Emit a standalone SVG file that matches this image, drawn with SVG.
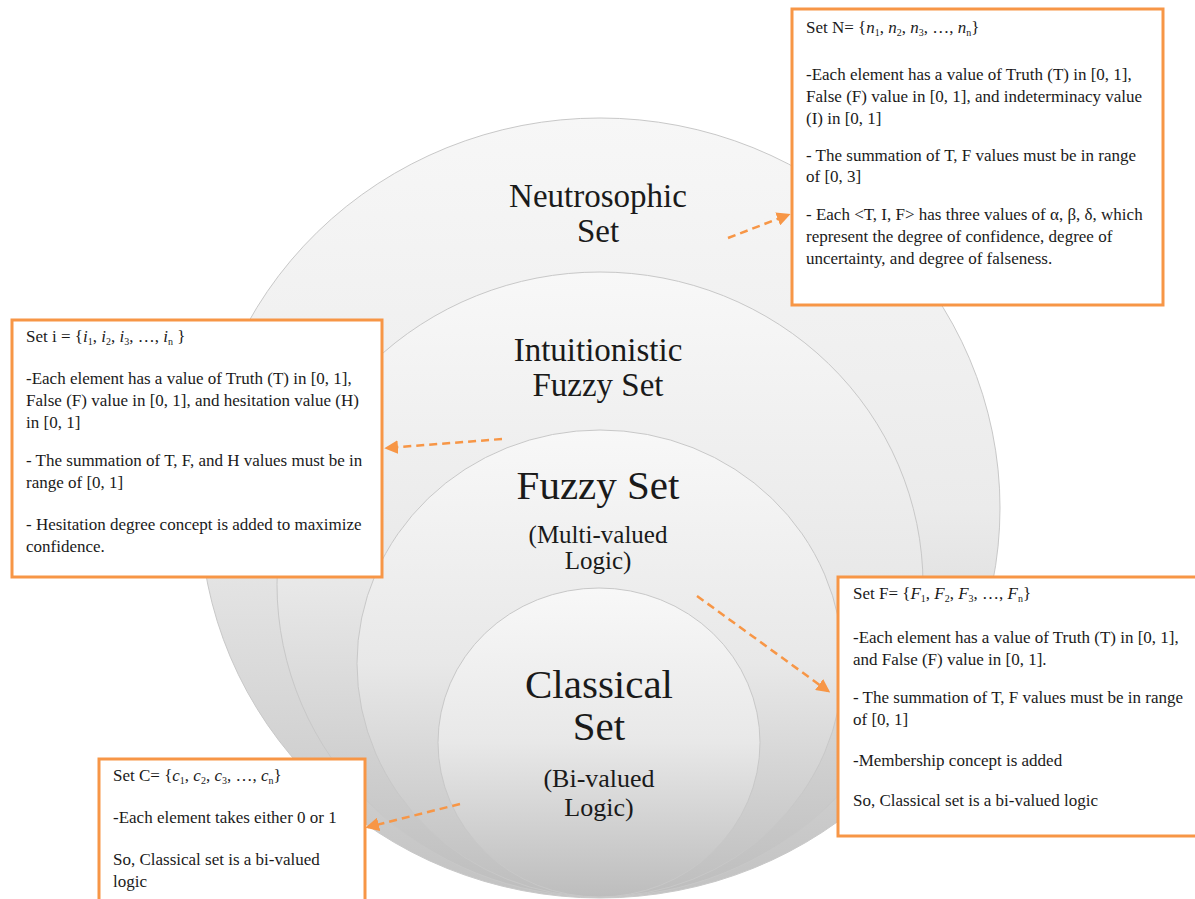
<svg xmlns="http://www.w3.org/2000/svg" width="1195" height="899" viewBox="0 0 1195 899">
<style>
.big{font-family:"Liberation Serif","Times New Roman",serif;fill:#1a1a1a;text-anchor:middle}
.bt{font-family:"Liberation Serif","Times New Roman",serif;font-size:17px;fill:#1a1a1a}
.m{font-style:italic}
.s{font-size:10px}
.box{fill:#ffffff;stroke:#f79646;stroke-width:3}
.ell{stroke:#c8c8c8;stroke-width:1}
.con{fill:none;stroke:#f79646;stroke-width:2.5;stroke-dasharray:8 5;marker-end:url(#ah)}
</style>
<defs>
<linearGradient id="g1" x1="0" y1="0" x2="0" y2="1">
<stop offset="0" stop-color="#f7f7f7"/>
<stop offset="0.5" stop-color="#ebebeb"/>
<stop offset="1" stop-color="#c2c2c2"/>
</linearGradient>
<linearGradient id="g2" x1="0" y1="0" x2="0" y2="1">
<stop offset="0" stop-color="#f8f8f8"/>
<stop offset="0.5" stop-color="#e8e8e8"/>
<stop offset="1" stop-color="#bdbdbd"/>
</linearGradient>
<marker id="ah" viewBox="0 0 10 10" refX="8" refY="5" markerWidth="5.5" markerHeight="5.5" orient="auto" markerUnits="strokeWidth">
<path d="M0,0 L10,5 L0,10 z" fill="#f79646"/>
</marker>
</defs>
<rect width="1195" height="899" fill="#ffffff"/>

<g id="neutrosophic">
<ellipse class="ell" cx="600" cy="508" rx="400" ry="390" fill="url(#g1)" stroke="#dcdcdc"/>
<text class="big" font-size="33" x="598" y="207">Neutrosophic</text>
<text class="big" font-size="33" x="598" y="242">Set</text>
</g>
<g id="intuitionistic">
<ellipse class="ell" cx="600" cy="584.5" rx="323" ry="312.5" fill="url(#g2)"/>
<text class="big" font-size="33" x="598" y="361">Intuitionistic</text>
<text class="big" font-size="33" x="598" y="396">Fuzzy Set</text>
</g>
<g id="fuzzy">
<ellipse class="ell" cx="600" cy="663.5" rx="243" ry="233.5" fill="url(#g2)"/>
<text class="big" font-size="41" x="598" y="499">Fuzzy Set</text>
<text class="big" font-size="25" x="598" y="543">(Multi-valued</text>
<text class="big" font-size="25" x="598" y="569">Logic)</text>
</g>
<g id="classical">
<ellipse class="ell" cx="599" cy="742.5" rx="161" ry="154.5" fill="url(#g2)"/>
<text class="big" font-size="41" x="599" y="698">Classical</text>
<text class="big" font-size="41" x="599" y="740">Set</text>
<text class="big" font-size="26" x="599" y="787">(Bi-valued</text>
<text class="big" font-size="26" x="599" y="816">Logic)</text>
</g>

<g id="box-n">
<rect class="box" x="792" y="9" width="371" height="296"/>
<text class="bt" x="806" y="33">Set N= {<tspan class="m">n</tspan><tspan class="s" dy="3">1</tspan><tspan dy="-3">, </tspan><tspan class="m">n</tspan><tspan class="s" dy="3">2</tspan><tspan dy="-3">, </tspan><tspan class="m">n</tspan><tspan class="s" dy="3">3</tspan><tspan dy="-3">, …, </tspan><tspan class="m">n</tspan><tspan class="s" dy="3">n</tspan><tspan dy="-3">}</tspan></text>
<text class="bt" x="806" y="80">-Each element has a value of Truth (T) in [0, 1],</text>
<text class="bt" x="806" y="102">False (F) value in [0, 1], and indeterminacy value</text>
<text class="bt" x="806" y="124">(I) in [0, 1]</text>
<text class="bt" x="806" y="161">- The summation of T, F values must be in range</text>
<text class="bt" x="806" y="182">of [0, 3]</text>
<text class="bt" x="806" y="220">- Each &lt;T, I, F&gt; has three values of α, β, δ, which</text>
<text class="bt" x="806" y="242">represent the degree of confidence, degree of</text>
<text class="bt" x="806" y="264">uncertainty, and degree of falseness.</text>
</g>

<g id="box-i">
<rect class="box" x="12" y="320" width="370" height="257"/>
<text class="bt" x="26" y="342">Set i = {<tspan class="m">i</tspan><tspan class="s" dy="3">1</tspan><tspan dy="-3">, </tspan><tspan class="m">i</tspan><tspan class="s" dy="3">2</tspan><tspan dy="-3">, </tspan><tspan class="m">i</tspan><tspan class="s" dy="3">3</tspan><tspan dy="-3">, …, </tspan><tspan class="m">i</tspan><tspan class="s" dy="3">n</tspan><tspan dy="-3"> }</tspan></text>
<text class="bt" x="26" y="384">-Each element has a value of Truth (T) in [0, 1],</text>
<text class="bt" x="26" y="406">False (F) value in [0, 1], and hesitation value (H)</text>
<text class="bt" x="26" y="428">in [0, 1]</text>
<text class="bt" x="26" y="466">- The summation of T, F, and H values must be in</text>
<text class="bt" x="26" y="488">range of [0, 1]</text>
<text class="bt" x="26" y="530">- Hesitation degree concept is added to maximize</text>
<text class="bt" x="26" y="552">confidence.</text>
</g>

<g id="box-f">
<rect class="box" x="838" y="577" width="360" height="259"/>
<text class="bt" x="853" y="599">Set F= {<tspan class="m">F</tspan><tspan class="s" dy="3">1</tspan><tspan dy="-3">, </tspan><tspan class="m">F</tspan><tspan class="s" dy="3">2</tspan><tspan dy="-3">, </tspan><tspan class="m">F</tspan><tspan class="s" dy="3">3</tspan><tspan dy="-3">, …, </tspan><tspan class="m">F</tspan><tspan class="s" dy="3">n</tspan><tspan dy="-3">}</tspan></text>
<text class="bt" x="853" y="643">-Each element has a value of Truth (T) in [0, 1],</text>
<text class="bt" x="853" y="665">and False (F) value in [0, 1].</text>
<text class="bt" x="853" y="703">- The summation of T, F values must be in range</text>
<text class="bt" x="853" y="725">of [0, 1]</text>
<text class="bt" x="853" y="766">-Membership concept is added</text>
<text class="bt" x="853" y="806">So, Classical set is a bi-valued logic</text>
</g>

<g id="box-c">
<rect class="box" x="99" y="759" width="266" height="145"/>
<text class="bt" x="113" y="781">Set C= {<tspan class="m">c</tspan><tspan class="s" dy="3">1</tspan><tspan dy="-3">, </tspan><tspan class="m">c</tspan><tspan class="s" dy="3">2</tspan><tspan dy="-3">, </tspan><tspan class="m">c</tspan><tspan class="s" dy="3">3</tspan><tspan dy="-3">, …, </tspan><tspan class="m">c</tspan><tspan class="s" dy="3">n</tspan><tspan dy="-3">}</tspan></text>
<text class="bt" x="113" y="823">-Each element takes either 0 or 1</text>
<text class="bt" x="113" y="865">So, Classical set is a bi-valued</text>
<text class="bt" x="113" y="887">logic</text>
</g>

<g id="connectors">
<path class="con" d="M728,238 L788,215"/>
<path class="con" d="M502,439 L387,448"/>
<path class="con" d="M697,596 L828,691"/>
<path class="con" d="M460,804 L368,827"/>
</g>
</svg>
